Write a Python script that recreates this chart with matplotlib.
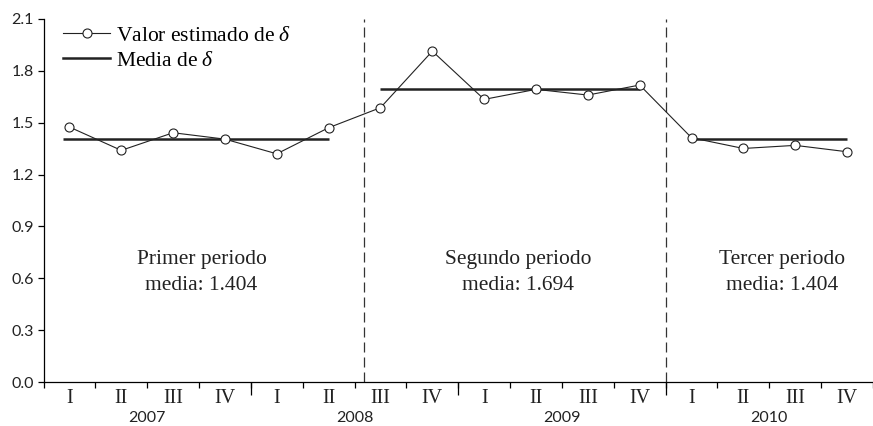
#! /usr/bin/env python3

import numpy as np
import matplotlib
matplotlib.use('Agg')
import matplotlib.pyplot as plt
from matplotlib.lines import Line2D

# quarterly estimates of delta, 2007-I .. 2010-IV
quarters = ['I', 'II', 'III', 'IV'] * 4
years = ['2007', '2008', '2009', '2010']
delta = [1.475, 1.340, 1.442, 1.405, 1.320, 1.471,
         1.587, 1.914, 1.635, 1.693, 1.660, 1.718,
         1.413, 1.351, 1.369, 1.332]

# periods: (first index, last index, mean, name)
period_names = ['Primer periodo', 'Segundo periodo', 'Tercer periodo']
period_start = [0, 6, 12]
period_end = [5, 11, 15]
period_mean = [1.404, 1.694, 1.404]
breaks = [5.68, 11.5]

serif = 'Liberation Serif'
sans = 'Lato'


def main():
    plt.rcParams['mathtext.fontset'] = 'custom'
    plt.rcParams['mathtext.it'] = 'Liberation Serif:italic'
    fig = plt.figure(figsize=(8.73, 4.26), dpi=100)
    ax = fig.add_axes([43.5/873, 44/426, 1 - 43.5/873, 363/426])
    x = np.arange(len(delta))

    for s, e, m in zip(period_start, period_end, period_mean):
        x0 = s - 0.13 if s == 0 else s
        ax.plot([x0, e], [m, m], color='#222222', lw=1.8, zorder=2,
                solid_capstyle='butt')
    ax.plot(x, delta, color='#222222', lw=0.8, marker='o', ms=6.5,
            mfc='white', mec='#222222', mew=0.8, zorder=3)
    for b in breaks:
        ax.axvline(b, color='#333333', lw=0.9, ls=(0, (8, 4)), zorder=1)

    # period labels
    for name, m, xc in zip(period_names, period_mean, [2.55, 8.66, 13.74]):
        ax.text(xc, 0.636, '{:s}\nmedia: {:.3f}'.format(name, m),
                ha='center', va='center', fontsize=15.5, family=serif,
                color='#222222', linespacing=1.5)

    ax.set_xlim(-0.5, 15.45)
    ax.set_ylim(0, 2.1)
    ax.set_yticks(np.arange(0, 2.11, 0.3))
    ax.set_yticklabels(['{:.1f}'.format(v) for v in np.arange(0, 2.11, 0.3)],
                       family=sans, fontsize=11.5, color='#222222')
    ax.set_xticks(x)
    ax.set_xticklabels(quarters, family=serif, fontsize=14.5,
                       color='#222222')
    ax.set_xticks(np.arange(-0.5, 16, 1), minor=True)
    ax.tick_params(axis='x', which='major', length=0, pad=5)
    ax.tick_params(axis='x', which='minor', length=4, width=0.9,
                   direction='out')
    ax.tick_params(axis='y', length=4, width=0.9, direction='out', pad=3)
    for side in ['top', 'right']:
        ax.spines[side].set_visible(False)
    for side in ['left', 'bottom']:
        ax.spines[side].set_linewidth(0.9)

    # longer ticks at year boundaries
    sec = ax.secondary_xaxis('bottom')
    sec.set_xticks([3.5, 7.5, 11.5])
    sec.set_xticklabels([])
    sec.tick_params(length=9, width=0.9, direction='out')
    sec.spines['bottom'].set_visible(False)

    trans = ax.get_xaxis_transform()
    for k, yr in enumerate(years):
        ax.text(4*k + 1.5, -0.1, yr, transform=trans, ha='center',
                va='center', family=sans, fontsize=11.5, color='#222222')

    handles = [Line2D([], [], color='#222222', lw=0.8, marker='o', ms=6.5,
                      mfc='white', mec='#222222', mew=0.8),
               Line2D([], [], color='#222222', lw=1.8)]
    labels = [r'Valor estimado de $\delta$', r'Media de $\delta$']
    ax.legend(handles, labels, loc='upper left',
              bbox_to_anchor=(0.0235, 0.981),
              frameon=False, prop={'family': serif, 'size': 15.5},
              handlelength=2.2, handletextpad=0.25, labelspacing=0.22,
              borderaxespad=0, borderpad=0)

    fig.savefig('out.png', dpi=100)
    plt.close(fig)
    return None


if __name__ == '__main__':
    main()
